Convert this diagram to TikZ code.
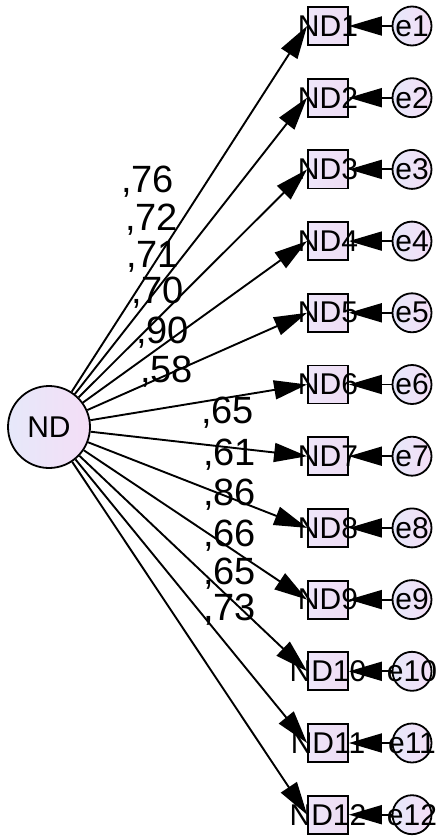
\documentclass[tikz,border=0pt]{standalone}
\usepackage{fontspec}
\setmainfont{Liberation Sans}
\usetikzlibrary{arrows.meta}
\definecolor{boxL}{RGB}{238,230,250}
\definecolor{boxR}{RGB}{238,220,243}
\definecolor{cirL}{RGB}{230,232,250}
\definecolor{cirR}{RGB}{244,222,246}
\begin{document}
\begin{tikzpicture}[x=1pt,y=-1pt,
  obs/.style={draw,line width=1.8pt,rectangle,minimum width=40pt,minimum height=38pt,inner sep=0pt,left color=boxL,right color=boxR},
  errc/.style={draw,line width=1.8pt,circle,minimum size=39pt,inner sep=0pt,left color=cirL,right color=cirR},
  lat/.style={draw,line width=1.8pt,circle,minimum size=82pt,inner sep=0pt,left color=cirL,right color=cirR,font=\fontsize{30}{30}\selectfont},
  lbl/.style={inner sep=0pt,font=\fontsize{30}{30}\selectfont},
  coef/.style={inner sep=0pt,anchor=base west,font=\fontsize{38}{38}\selectfont},
  arr/.style={line width=1.9pt,-{Triangle[length=33pt,width=19pt]}}]
\useasboundingbox (0,0) rectangle (436,837);
\node[lat] (ND) at (49,427) {ND};
\foreach \i in {1,...,12} {
  \pgfmathsetmacro\yy{26+(\i-1)*71.7}
  \node[obs,label={[lbl,name=tND\i]center:ND\i}] (ND\i) at (328,\yy) {};
  \node[errc,label={[lbl,name=te\i]center:e\i}] (e\i) at (412,\yy) {};
}
\foreach \i in {1,...,12} {
  \draw[arr] (ND) -- (ND\i.west);
  \draw[arr] (e\i) -- (ND\i);
}
\node[coef] (c1) at (121,193) {,76};
\node[coef] (c2) at (125,230) {,72};
\node[coef] (c3) at (126,267) {,71};
\node[coef] (c4) at (131,303) {,70};
\node[coef] (c5) at (136,343) {,90};
\node[coef] (c6) at (140,382) {,58};
\node[coef] (c7) at (201,423) {,65};
\node[coef] (c8) at (203,465) {,61};
\node[coef] (c9) at (203,505) {,86};
\node[coef] (c10) at (203,546) {,66};
\node[coef] (c11) at (203,584) {,65};
\node[coef] (c12) at (203,620) {,73};
\end{tikzpicture}
\end{document}
